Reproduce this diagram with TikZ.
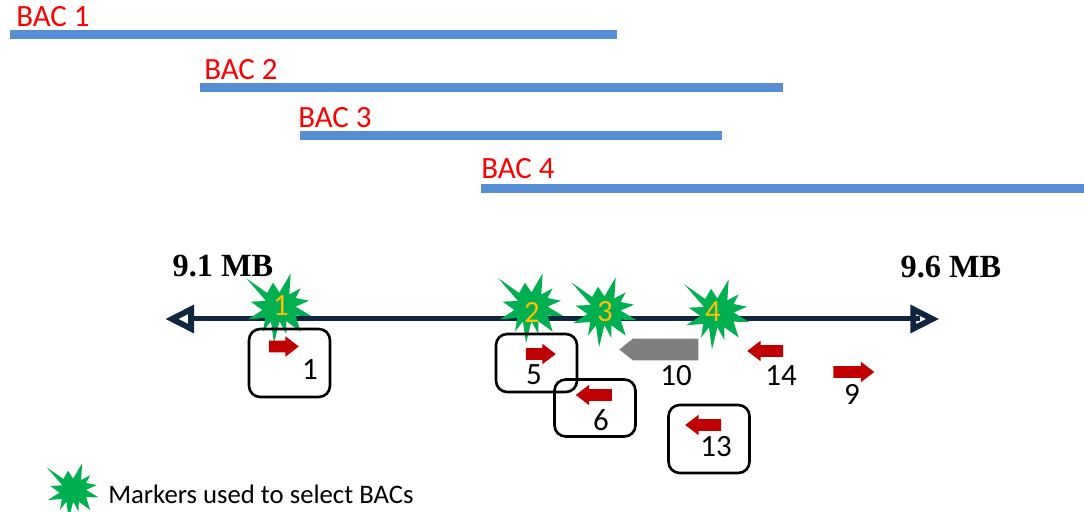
\documentclass[tikz,border=0pt]{standalone}
\usepackage{xcolor}
\usepackage{fontspec}
\usepackage{tikz}
\usetikzlibrary{arrows.meta}
\usetikzlibrary{shapes}
\setmainfont{Carlito}
\newfontfamily\mbfont{Liberation Serif}
\definecolor{barblue}{HTML}{558ED5}
\definecolor{axisnavy}{HTML}{10253F}
\definecolor{genered}{HTML}{C00000}
\definecolor{burstgreen}{HTML}{00B050}
\definecolor{burstgold}{HTML}{FFC000}
\definecolor{genegray}{HTML}{7F7F7F}
\tikzset{%
  bacbar/.style={
    draw=barblue,
    line width=.225cm
  },
  baclabel/.style={
    anchor=base west,
    inner sep=0pt,
    text=red,
    font=\fontsize{22}{26}\selectfont
  },
  mblabel/.style={
    inner sep=0pt,
    font=\mbfont\bfseries\fontsize{23}{27}\selectfont
  },
  axisline/.style={
    draw=axisnavy,
    line width=.125cm
  },
  genebox/.style={
    draw,
    rectangle,
    rounded corners=.28cm,
    line width=.065cm,
    inner sep=0pt
  },
  genelabel/.style={
    inner sep=0pt,
    font=\fontsize{22}{26}\selectfont
  },
  burstlabel/.style={
    inner sep=0pt,
    text=burstgold,
    font=\fontsize{22}{26}\selectfont
  },
  genearrow/.style={
    single arrow,
    fill=genered,
    inner xsep=0pt,
    inner ysep=.1375cm,
    outer sep=0pt,
    single arrow head extend=.1125cm,
    single arrow tip angle=75
  },
  geneleft/.style={
    genearrow,
    shape border rotate=180
  },
  burst/.pic={
    \fill [burstgreen] (-.792,.792)--(-.27,.425)--(-.125,.683)--(.036,.44)
      --(.317,.917)--(.283,.39)--(.567,.542)--(.44,.3)--(.775,.233)
      --(.44,.085)--(.833,-.15)--(.44,-.142)--(.567,-.542)--(.212,-.283)
      --(.208,-.6)--(.036,-.283)--(-.1,-.833)--(-.177,-.283)--(-.375,-.542)
      --(-.319,-.198)--(-.75,-.233)--(-.39,0)--(-.683,.208)--(-.3,.227)
      --cycle;
  },
}
\begin{document}
\begin{tikzpicture}
  \useasboundingbox (0,0) rectangle (27.1,-12.8);

  % BAC bars
  \coordinate (bar1a) at (.25,-.8625);
  \coordinate (bar1b) at (15.425,-.8625);
  \coordinate (bar2a) at (5,-2.1875);
  \coordinate (bar2b) at (19.575,-2.1875);
  \coordinate (bar3a) at (7.5,-3.3875);
  \coordinate (bar3b) at (18.05,-3.3875);
  \coordinate (bar4a) at (12.025,-4.7125);
  \coordinate (bar4b) at (27.1,-4.7125);
  \draw [bacbar] (bar1a)--(bar1b);
  \draw [bacbar] (bar2a)--(bar2b);
  \draw [bacbar] (bar3a)--(bar3b);
  \draw [bacbar] (bar4a)--(bar4b);

  \node (bac1) [baclabel,xshift=.4cm,yshift=-.675cm] {BAC 1};
  \node (bac2) [baclabel,xshift=5.1cm,yshift=-2cm] {BAC 2};
  \node (bac3) [baclabel,xshift=7.45cm,yshift=-3.2cm] {BAC 3};
  \node (bac4) [baclabel,xshift=12.025cm,yshift=-4.475cm] {BAC 4};

  \node (mbleft) [mblabel,xshift=5.575cm,yshift=-6.65cm] {9.1 MB};
  \node (mbright) [mblabel,xshift=23.775cm,yshift=-6.675cm] {9.6 MB};

  % chromosome axis
  \coordinate (axisa) at (4.13,-7.975);
  \coordinate (axisb) at (23.48,-7.975);
  \coordinate (shafta) at (4.7,-7.975);
  \coordinate (shaftb) at (23,-7.975);
  \draw [axisline,{Triangle[open,length=.72cm,width=.68cm,line width=.145cm]}-{Triangle[open,length=.72cm,width=.68cm,line width=.145cm]}] (axisa)--(axisb);
  \draw [axisline] (shafta)--(shaftb);

  % markers
  \pic at (6.95,-7.75) {burst};
  \pic at (13.25,-7.75) {burst};
  \pic at (15.075,-7.85) {burst};
  \pic at (17.9,-7.9) {burst};
  \pic [scale=.8] at (1.8,-12.315) {burst};

  % genes
  \node (box1) [genebox,minimum width=2.025cm,minimum height=1.7cm,xshift=7.2375cm,yshift=-9.075cm] {};
  \node (box5) [genebox,minimum width=2.025cm,minimum height=1.45cm,xshift=13.4125cm,yshift=-9.075cm] {};
  \node (box6) [genebox,minimum width=2.025cm,minimum height=1.425cm,xshift=14.875cm,yshift=-10.2cm] {};
  \node (box13) [genebox,minimum width=2.025cm,minimum height=1.7cm,xshift=17.725cm,yshift=-10.975cm] {};

  \node (gene1) [genearrow,minimum height=.75cm,xshift=7cm,yshift=-8.6625cm] {};
  \node (gene5) [genearrow,minimum height=.75cm,xshift=13.425cm,yshift=-8.85cm] {};
  \node (gene6) [geneleft,minimum height=.9cm,xshift=14.94cm,yshift=-9.875cm] {};
  \node (gene13) [geneleft,minimum height=.9cm,xshift=17.675cm,yshift=-10.625cm] {};
  \node (gene14) [geneleft,minimum height=.9cm,xshift=19.225cm,yshift=-8.775cm] {};
  \node (gene9) [genearrow,minimum height=1.025cm,xshift=21.25cm,yshift=-9.3cm] {};
  \node (gene10) [single arrow,fill=genegray,inner xsep=0pt,inner ysep=.2625cm,
    minimum height=1.975cm,single arrow head extend=0pt,single arrow tip angle=77,
    shape border rotate=180,xshift=16.64cm,yshift=-8.7375cm] {};

  \node (num1) [genelabel,xshift=7.75cm,yshift=-9.25cm] {1};
  \node (num5) [genelabel,xshift=13.35cm,yshift=-9.375cm] {5};
  \node (num6) [genelabel,xshift=15.025cm,yshift=-10.5cm] {6};
  \node (num13) [genelabel,xshift=17.9cm,yshift=-11.175cm] {13};
  \node (num10) [genelabel,xshift=16.9cm,yshift=-9.4cm] {10};
  \node (num14) [genelabel,xshift=19.525cm,yshift=-9.4cm] {14};
  \node (num9) [genelabel,xshift=21.3cm,yshift=-9.85cm] {9};

  \node (mark1) [burstlabel,xshift=7.025cm,yshift=-7.65cm] {1};
  \node (mark2) [burstlabel,xshift=13.3cm,yshift=-7.8cm] {2};
  \node (mark3) [burstlabel,xshift=15.125cm,yshift=-7.8cm] {3};
  \node (mark4) [burstlabel,xshift=17.825cm,yshift=-7.8cm] {4};

  \node (legend) [anchor=west,inner sep=0pt,font=\fontsize{19}{23}\selectfont,
    xshift=2.7cm,yshift=-12.35cm] {Markers used to select BACs};
\end{tikzpicture}
\end{document}
